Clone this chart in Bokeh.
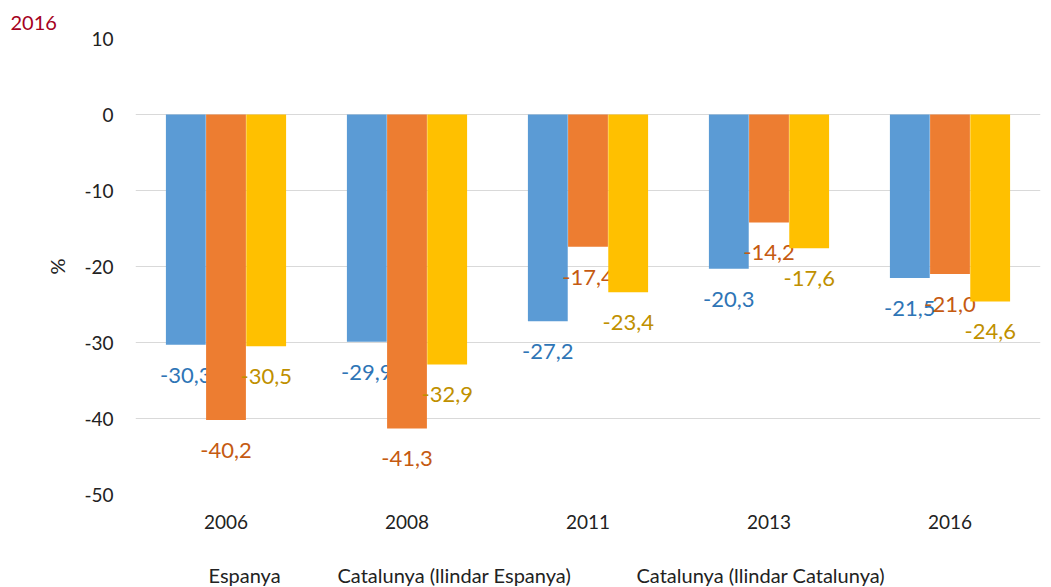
from bokeh.plotting import figure
from bokeh.models import FactorRange, Range1d, ColumnDataSource
from bokeh.core.properties import value
from bokeh.transform import dodge
from bokeh.layouts import column
from bokeh.embed import file_html
from bokeh.resources import INLINE

years = ["2006", "2008", "2011", "2013", "2016"]
espanya = [-30.3, -29.9, -27.2, -20.3, -21.5]
cat_esp = [-40.2, -41.3, -17.4, -14.2, -21.0]
cat_cat = [-30.5, -32.9, -23.4, -17.6, -24.6]
series_names = ["Espanya", "Catalunya (llindar Espanya)", "Catalunya (llindar Catalunya)"]
bar_colors = ["#5B9BD5", "#ED7D31", "#FFC000"]
label_colors = ["#2E75B6", "#C55A11", "#BF9000"]
y_ticks = [10, 0, -10, -20, -30, -40, -50]
title_text = "2016"

FONT = "Lato"
W, H_MAIN, H_LEG = 1051, 560, 27
FRAME_L, FRAME_R = 135, 1040

p = figure(x_range=FactorRange(*years), y_range=Range1d(-50, 10),
           width=W, height=H_MAIN, output_backend="svg", toolbar_location=None,
           min_border_left=FRAME_L, min_border_right=W - FRAME_R, min_border_top=38,
           min_border_bottom=66)
p.outline_line_color = None
p.background_fill_color = "white"
p.border_fill_color = "white"

p.title.text = title_text
p.title.align = "left"
p.title.offset = -125
p.title.text_font = FONT
p.title.text_font_size = "20px"
p.title.text_font_style = "normal"
p.title.text_color = "#A50021"
p.title.standoff = 18

offsets = [-0.222, 0.0, 0.222]
for vals, col, lcol, off in zip([espanya, cat_esp, cat_cat], bar_colors, label_colors, offsets):
    src = ColumnDataSource(dict(x=years, top=vals,
                                ly=[v - 4.0 for v in vals],
                                txt=[("%.1f" % v).replace(".", ",") for v in vals]))
    p.vbar(x=dodge("x", off, range=p.x_range), top="top", bottom=0, width=0.22,
           source=src, fill_color=col, line_color=None)
    p.text(x=dodge("x", off, range=p.x_range), y="ly", text="txt", source=src,
           text_color=lcol, text_font=value(FONT), text_font_size="22px",
           text_align="center", text_baseline="middle")

p.yaxis.ticker = y_ticks
p.yaxis.major_label_overrides = {t: str(t) for t in y_ticks}
p.yaxis.axis_line_color = None
p.yaxis.major_tick_line_color = None
p.yaxis.minor_tick_line_color = None
p.yaxis.major_tick_out = 0
p.yaxis.major_label_standoff = 22
p.yaxis.major_label_text_font = FONT
p.yaxis.major_label_text_font_size = "19px"
p.yaxis.major_label_text_color = "#222222"
p.yaxis.axis_label = "%"
p.yaxis.axis_label_text_font = FONT
p.yaxis.axis_label_text_font_size = "20px"
p.yaxis.axis_label_text_font_style = "normal"
p.yaxis.axis_label_text_color = "#222222"
p.yaxis.axis_label_standoff = 12

p.xaxis.axis_line_color = None
p.xaxis.major_tick_line_color = None
p.xaxis.minor_tick_line_color = None
p.xaxis.major_tick_out = 0
p.xaxis.major_label_standoff = 20
p.xaxis.major_label_text_font = FONT
p.xaxis.major_label_text_font_size = "19px"
p.xaxis.major_label_text_color = "#222222"

p.xgrid.grid_line_color = None
p.ygrid.grid_line_color = "#D9D9D9"
p.ygrid.grid_line_width = 1

# legend strip (text-only legend, as in the reference); its frame is aligned
# with the main frame by the column layout, so its x range spans the frame pixels
leg = figure(width=W, height=H_LEG, x_range=Range1d(FRAME_L, FRAME_R),
             y_range=Range1d(0, H_LEG), output_backend="svg", toolbar_location=None,
             x_axis_type=None, y_axis_type=None, min_border=0,
             min_border_left=FRAME_L, min_border_right=W - FRAME_R)
leg.outline_line_color = None
leg.grid.visible = False
leg_src = ColumnDataSource(dict(x=[208, 337, 636], y=[13, 13, 13], t=series_names))
leg.text(x="x", y="y", text="t", source=leg_src, text_font=value(FONT),
         text_font_size="20px", text_color="#222222", text_align="left",
         text_baseline="middle")

layout = column(p, leg, spacing=0)
open("out.html", "w").write(file_html(layout, INLINE))
